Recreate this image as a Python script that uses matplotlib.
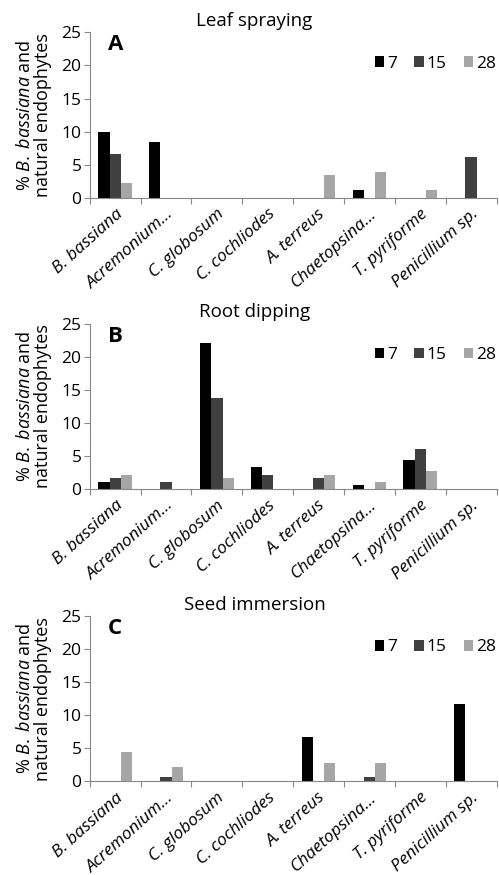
import numpy as np
import matplotlib
matplotlib.use("Agg")
import matplotlib.pyplot as plt
from matplotlib.patches import Patch

plt.rcParams["font.family"] = ["Open Sans", "DejaVu Sans"]
plt.rcParams["mathtext.fontset"] = "custom"
plt.rcParams["mathtext.it"] = "Open Sans:italic"
plt.rcParams["mathtext.rm"] = "Open Sans"

# === Data ===
fungi = ["B. bassiana", "Acremonium…", "C. globosum", "C. cochliodes",
         "A. terreus", "Chaetopsina…", "T. pyriforme", "Penicillium sp."]
days = ["7", "15", "28"]

leaf_7 = [10.0, 8.4, 0, 0, 0, 1.1, 0, 0]
leaf_15 = [6.65, 0, 0, 0, 0, 0, 0, 6.1]
leaf_28 = [2.25, 0, 0, 0, 3.4, 3.9, 1.1, 0]

root_7 = [1.1, 0, 22.1, 3.35, 0, 0.55, 4.45, 0]
root_15 = [1.65, 1.1, 13.85, 2.2, 1.65, 0, 6.0, 0]
root_28 = [2.2, 0, 1.65, 0, 2.2, 1.1, 2.75, 0]

seed_7 = [0, 0, 0, 0, 6.65, 0, 0, 11.65]
seed_15 = [0, 0.6, 0, 0, 0, 0.6, 0, 0]
seed_28 = [4.45, 2.2, 0, 0, 2.75, 2.75, 0, 0]

panels = [
    ("Leaf spraying", "A", [leaf_7, leaf_15, leaf_28]),
    ("Root dipping", "B", [root_7, root_15, root_28]),
    ("Seed immersion", "C", [seed_7, seed_15, seed_28]),
]
colors = ["#000000", "#404040", "#a6a6a6"]

# === Figure ===
fig = plt.figure(figsize=(4.99, 8.75), dpi=100)
bottoms = [0.774, 0.441, 0.107]
x = np.arange(len(fungi))
w = 0.22

for (title, letter, series), b in zip(panels, bottoms):
    ax = fig.add_axes([0.18, b, 0.815, 0.189])
    for i, (vals, c) in enumerate(zip(series, colors)):
        ax.bar(x + (i - 1) * w, vals, width=w, color=c, edgecolor="none")

    ax.set_xlim(-0.5, len(fungi) - 0.5)
    ax.set_ylim(0, 25)
    ax.set_yticks([0, 5, 10, 15, 20, 25])
    ax.tick_params(axis="y", labelsize=12.5, length=4, color="#888888", pad=2)

    # ticks at the group borders, labels at the group centres
    ax.set_xticks(np.arange(-0.5, len(fungi), 1))
    ax.set_xticklabels([])
    ax.tick_params(axis="x", which="major", length=4, color="#888888", direction="out")
    ax.set_xticks(x, minor=True)
    ax.set_xticklabels(fungi, minor=True, rotation=42, ha="right",
                       rotation_mode="anchor", fontsize=12.5, fontstyle="italic")
    ax.tick_params(axis="x", which="minor", length=0, pad=6)

    for s in ["top", "right"]:
        ax.spines[s].set_visible(False)
    ax.spines["left"].set_color("#888888")
    ax.spines["bottom"].set_color("#888888")

    ax.set_ylabel("% $\\mathit{B.}$ $\\mathit{bassiana}$ and\nnatural endophytes",
                  fontsize=13, labelpad=7, linespacing=0.95)

    pos = ax.get_position()
    fig.text(0.51, pos.y1 + 0.013, title, ha="center", va="center", fontsize=13.5)
    ax.text(0.045, 0.925, letter, transform=ax.transAxes, fontsize=16,
            fontweight="bold", ha="left", va="center")

    handles = [Patch(facecolor=c, edgecolor="none") for c in colors]
    ax.legend(handles, days, loc="upper right", bbox_to_anchor=(1.015, 0.9),
              ncol=3, frameon=False, fontsize=12.5, handlelength=0.55,
              handleheight=0.55, handletextpad=0.15, columnspacing=1.0,
              borderaxespad=0)

fig.savefig("out.png", dpi=100)
